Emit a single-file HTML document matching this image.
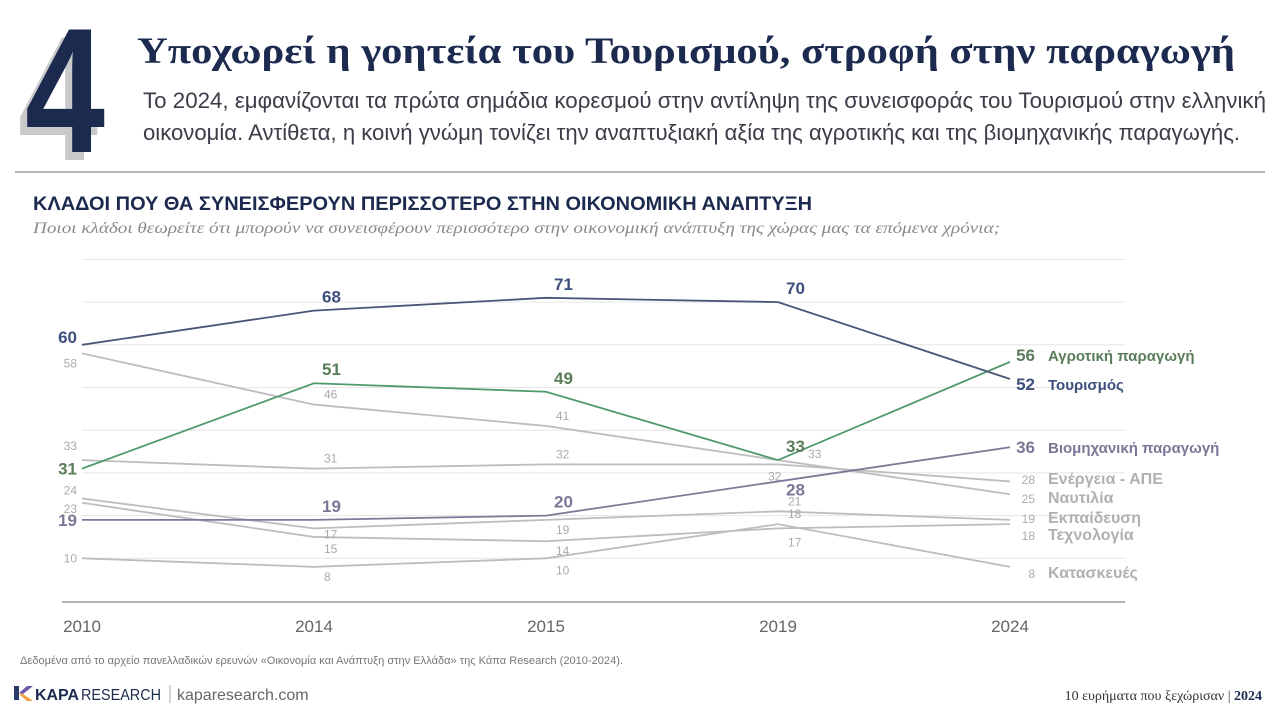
<!DOCTYPE html>
<html><head><meta charset="utf-8">
<style>
html,body{margin:0;padding:0;background:#fff;}
svg{display:block;font-family:"Liberation Sans",sans-serif;}
.narrow{font-family:"Liberation Sans Narrow","Liberation Sans",sans-serif;}
</style></head>
<body>
<svg id="chart" width="1280" height="720" viewBox="0 0 1280 720">
  <g>
    <text x="18" y="160" font-size="178" font-weight="bold" fill="#c9c9cc" textLength="80" lengthAdjust="spacingAndGlyphs">4</text>
    <text x="25" y="152" font-size="178" font-weight="bold" fill="#1c2a4f" textLength="80" lengthAdjust="spacingAndGlyphs">4</text>
    <text x="137" y="63" font-family="Liberation Serif,serif" font-size="37" font-weight="bold" fill="#1c2a4f" textLength="1098" lengthAdjust="spacingAndGlyphs">Υποχωρεί η γοητεία του Τουρισμού, στροφή στην παραγωγή</text>
    <text class="narrow" x="143" y="108" font-size="22" fill="#3a3d47" textLength="1123" lengthAdjust="spacingAndGlyphs">Το 2024, εμφανίζονται τα πρώτα σημάδια κορεσμού στην αντίληψη της συνεισφοράς του Τουρισμού στην ελληνική</text>
    <text class="narrow" x="143" y="140" font-size="22" fill="#3a3d47" textLength="1097" lengthAdjust="spacingAndGlyphs">οικονομία. Αντίθετα, η κοινή γνώμη τονίζει την αναπτυξιακή αξία της αγροτικής και της βιομηχανικής παραγωγής.</text>
    <line x1="15" y1="172" x2="1265" y2="172" stroke="#9a9a9a" stroke-width="1.5"/>
  </g>
  <text class="narrow" x="33" y="210" font-size="19" font-weight="bold" fill="#1c2a4f" textLength="779" lengthAdjust="spacingAndGlyphs">ΚΛΑΔΟΙ ΠΟΥ ΘΑ ΣΥΝΕΙΣΦΕΡΟΥΝ ΠΕΡΙΣΣΟΤΕΡΟ ΣΤΗΝ ΟΙΚΟΝΟΜΙΚΗ ΑΝΑΠΤΥΞΗ</text>
  <text x="33" y="233" font-family="Liberation Serif,serif" font-style="italic" font-size="16" fill="#8a8a8a" textLength="967" lengthAdjust="spacingAndGlyphs">Ποιοι κλάδοι θεωρείτε ότι μπορούν να συνεισφέρουν περισσότερο στην οικονομική ανάπτυξη της χώρας μας τα επόμενα χρόνια;</text>
  <g id="grid"></g>
  <g id="series"></g>
  <g id="labels"></g>
  <g id="xaxis"></g>
  <g>
    <text class="narrow" x="20" y="664" font-size="11" fill="#777" textLength="603" lengthAdjust="spacingAndGlyphs">Δεδομένα από το αρχείο πανελλαδικών ερευνών «Οικονομία και Ανάπτυξη στην Ελλάδα» της Κάπα Research (2010-2024).</text>
    <g>
      <polygon points="14,686 19,686 19,700 14,700" fill="#2a3a66"/>
      <polygon points="19,693 27,686 33,686 23,694" fill="#6a5aa8"/>
      <polygon points="19,694 23,694 33,701 27,701" fill="#f0a040"/>
      <text x="35" y="700" font-size="16" font-weight="bold" fill="#1c2a4f" textLength="44" lengthAdjust="spacingAndGlyphs">KAPA</text>
      <text x="81" y="700" font-size="16" fill="#1c2a4f" textLength="80" lengthAdjust="spacingAndGlyphs">RESEARCH</text>
    </g>
    <line x1="170" y1="685" x2="170" y2="703" stroke="#aaa"/>
    <text x="177" y="700" font-size="16" fill="#666">kaparesearch.com</text>
    <text x="1262" y="700" text-anchor="end" font-family="Liberation Serif,serif" font-size="14" fill="#333">10 ευρήματα που ξεχώρισαν | <tspan font-weight="bold" fill="#1c2a4f">2024</tspan></text>
  </g>
</svg>
<script>
const years = ["2010","2014","2015","2019","2024"];
const tourism = [60,68,71,70,52];
const agriculture = [31,51,49,33,56];
const industry = [19,19,20,28,36];
const energy = [33,31,32,32,28];
const shipping = [58,46,41,33,25];
const education = [24,17,19,21,19];
const technology = [23,15,14,17,18];
const construction = [10,8,10,18,8];
const seriesNames = ["Αγροτική παραγωγή","Τουρισμός","Βιομηχανική παραγωγή","Ενέργεια - ΑΠΕ","Ναυτιλία","Εκπαίδευση","Τεχνολογία","Κατασκευές"];
const gridTicks = [10,20,30,40,50,60,70,80];

const NS="http://www.w3.org/2000/svg";
const X0=82,X1=1010,Y0=601,PPU=4.27;
function xs(i){return X0+(X1-X0)*i/(years.length-1);}
function ys(v){return Y0-v*PPU;}
function mk(tag,attrs,parent){const e=document.createElementNS(NS,tag);for(const k in attrs)e.setAttribute(k,attrs[k]);parent.appendChild(e);return e;}

const grid=document.getElementById('grid');
gridTicks.forEach(t=>{
  const l=mk('line',{x1:X0,x2:1125,y1:ys(t),y2:ys(t),stroke:'#e6e6e6','stroke-width':1},grid);
  
  
});
const base=mk('line',{x1:62,x2:1125,y1:Y0+1,y2:Y0+1,stroke:'#9a9a9a','stroke-width':1.5},grid);



const xa=document.getElementById('xaxis');
years.forEach((y,i)=>{
  const t=mk('text',{x:xs(i),y:632,'text-anchor':'middle','font-size':17,fill:'#666'},xa);
  t.textContent=y;
  
  
});

const seriesDefs=[
 {name:seriesNames[1],data:tourism,color:'#4b5677',lab:'#3d4f7c',big:true,dy:[-8,-8,-8,-8,0],dx:[0,0,0,0,0],key:'tourism'},
 {name:seriesNames[0],data:agriculture,color:'#4f9a6c',lab:'#5a7d5a',big:true,dy:[0,-8,-8,-8,0],dx:[0,0,0,0,0],key:'agriculture'},
 {name:seriesNames[2],data:industry,color:'#7b7a98',lab:'#7a7896',big:true,dy:[0,-8,-8,14,0],dx:[0,0,0,0,0],key:'industry'},
 {name:seriesNames[3],data:energy,color:'#bdbdbd',lab:'#aaa',big:false,dy:[-14,-6,-6,16,0],dx:[0,0,0,-20,0],key:'energy'},
 {name:seriesNames[4],data:shipping,color:'#bdbdbd',lab:'#aaa',big:false,dy:[10,-6,-6,-2,0],dx:[0,0,0,20,0],key:'shipping'},
 {name:seriesNames[5],data:education,color:'#bdbdbd',lab:'#aaa',big:false,dy:[-8,10,14,-6,0],dx:[0,0,0,0,0],key:'education'},
 {name:seriesNames[6],data:technology,color:'#bdbdbd',lab:'#aaa',big:false,dy:[6,16,14,18,0],dx:[0,0,0,0,0],key:'technology'},
 {name:seriesNames[7],data:construction,color:'#bdbdbd',lab:'#aaa',big:false,dy:[0,14,16,-6,0],dx:[0,0,0,0,0],key:'construction'}
];
const sg=document.getElementById('series'), lg=document.getElementById('labels');
seriesDefs.slice().reverse().forEach(s=>{
  const pts=s.data.map((v,i)=>xs(i)+','+ys(v)).join(' ');
  const p=mk('polyline',{points:pts,fill:'none',stroke:s.color,'stroke-width':1.8},sg);
  
  
});
seriesDefs.forEach(s=>{
  s.data.forEach((v,i)=>{
    if(i===years.length-1)return;
    let x,anchor='start';
    if(i===0){x=77;anchor='end';}else{x=xs(i)+(s.big?8:10)+s.dx[i];}
    const t=mk('text',{x:x,y:ys(v)+s.dy[i]+(i===0&&!s.big?4:0)+(i===0&&s.big?6:0),'text-anchor':anchor,'font-size':s.big?17:12,'font-weight':s.big?'bold':'normal',fill:s.lab},lg);
    t.textContent=v;
    
    
  });
});
const endY={tourism:390,agriculture:361,industry:453,energy:484,shipping:503,education:523,technology:540,construction:578};
seriesDefs.forEach(s=>{
  const v=s.data[years.length-1];
  const t=mk('text',{x:1035,y:endY[s.key],'text-anchor':'end','font-size':s.big?17:12,'font-weight':s.big?'bold':'normal',fill:s.lab},lg);
  t.textContent=v;
  
  
  const n=mk('text',{x:1048,y:endY[s.key],'font-size':s.big?15:16,'font-weight':'bold',fill:s.big?s.lab:'#b0b0b0'},lg);
  n.textContent=s.name;
  
  
});
</script>
</body></html>
